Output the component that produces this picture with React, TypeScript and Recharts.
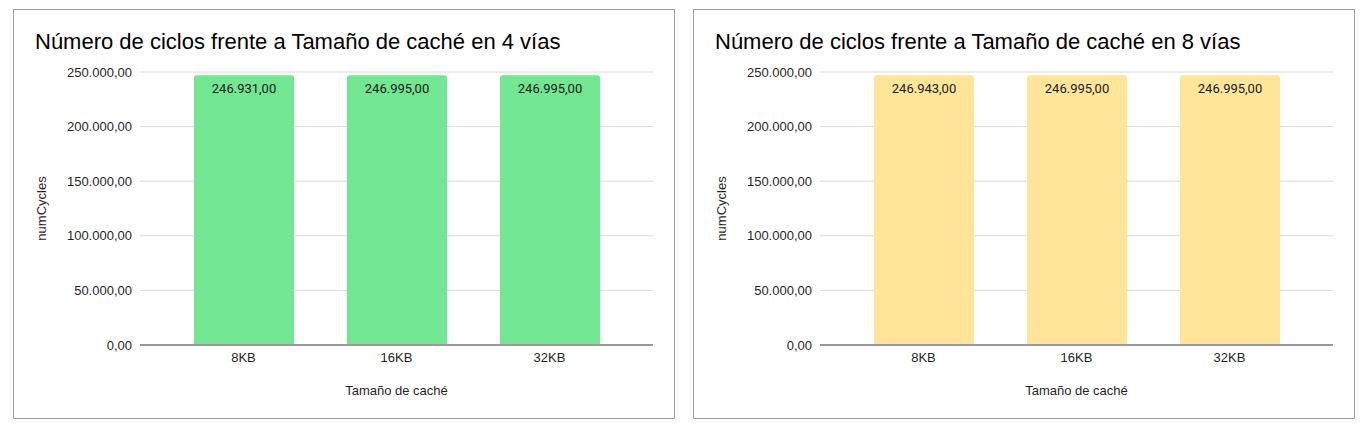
import { BarChart, Bar, XAxis, YAxis, CartesianGrid, LabelList } from "recharts";

const categories = ["8KB", "16KB", "32KB"];
const cycles4Way = [246931, 246995, 246995];
const cycles8Way = [246943, 246995, 246995];
const yTicks = [0, 50000, 100000, 150000, 200000, 250000];

const FONT = "'Liberation Sans', Arial, sans-serif";

// formato es-ES: 246.931,00
function fmt(v: number) {
  const [int, dec] = v.toFixed(2).split(".");
  return int.replace(/\B(?=(\d{3})+(?!\d))/g, ".") + "," + dec;
}

interface PanelProps {
  title: string;
  values: number[];
  color: string;
  left: number;
}

function Panel({ title, values, color, left }: PanelProps) {
  const data = categories.map((c, i) => ({ name: c, value: values[i] }));
  return (
    <div
      style={{
        position: "absolute",
        left,
        top: 1,
        width: 662,
        height: 410,
        boxSizing: "border-box",
        border: "1px solid #9e9e9e",
        background: "#fff",
      }}
    >
      <div
        style={{
          position: "absolute",
          left: 21,
          top: 21,
          fontFamily: FONT,
          fontSize: 22,
          lineHeight: "22px",
          color: "#000",
          whiteSpace: "nowrap",
        }}
      >
        {title}
      </div>
      <BarChart
        width={660}
        height={408}
        data={data}
        margin={{ top: 62, right: 21, left: 0, bottom: 0 }}
        style={{ fontFamily: FONT }}
      >
        <CartesianGrid vertical={false} stroke="#d9d9d9" />
        <XAxis
          dataKey="name"
          height={73}
          padding={{ left: 27, right: 27 }}
          tickLine={false}
          tickMargin={2}
          axisLine={{ stroke: "#999", strokeWidth: 2 }}
          tick={{ fill: "#1f1f1f", fontSize: 13 }}
          label={{ value: "Tamaño de caché", position: "insideBottom", offset: 23, fill: "#1f1f1f", fontSize: 13 }}
        />
        <YAxis
          width={126}
          domain={[0, 250000]}
          ticks={yTicks}
          tickFormatter={fmt}
          axisLine={false}
          tickLine={false}
          tick={{ fill: "#1f1f1f", fontSize: 13 }}
          label={{
            value: "numCycles",
            angle: -90,
            position: "insideLeft",
            offset: 27,
            fill: "#1f1f1f",
            fontSize: 13,
            style: { textAnchor: "middle" },
          }}
        />
        <Bar dataKey="value" fill={color} barSize={100} radius={[3, 3, 0, 0]} isAnimationActive={false}>
          <LabelList
            dataKey="value"
            position="insideTop"
            offset={8}
            formatter={(v: number) => fmt(v)}
            style={{ fill: "#1a1a1a", fontSize: 13, fontFamily: "Roboto, sans-serif" }}
          />
        </Bar>
      </BarChart>
    </div>
  );
}

export default function App() {
  return (
    <div style={{ position: "relative", width: 1354, height: 418 }}>
      <Panel title="Número de ciclos frente a Tamaño de caché en 4 vías" values={cycles4Way} color="#72e693" left={5} />
      <Panel title="Número de ciclos frente a Tamaño de caché en 8 vías" values={cycles8Way} color="#ffe599" left={685} />
    </div>
  );
}
